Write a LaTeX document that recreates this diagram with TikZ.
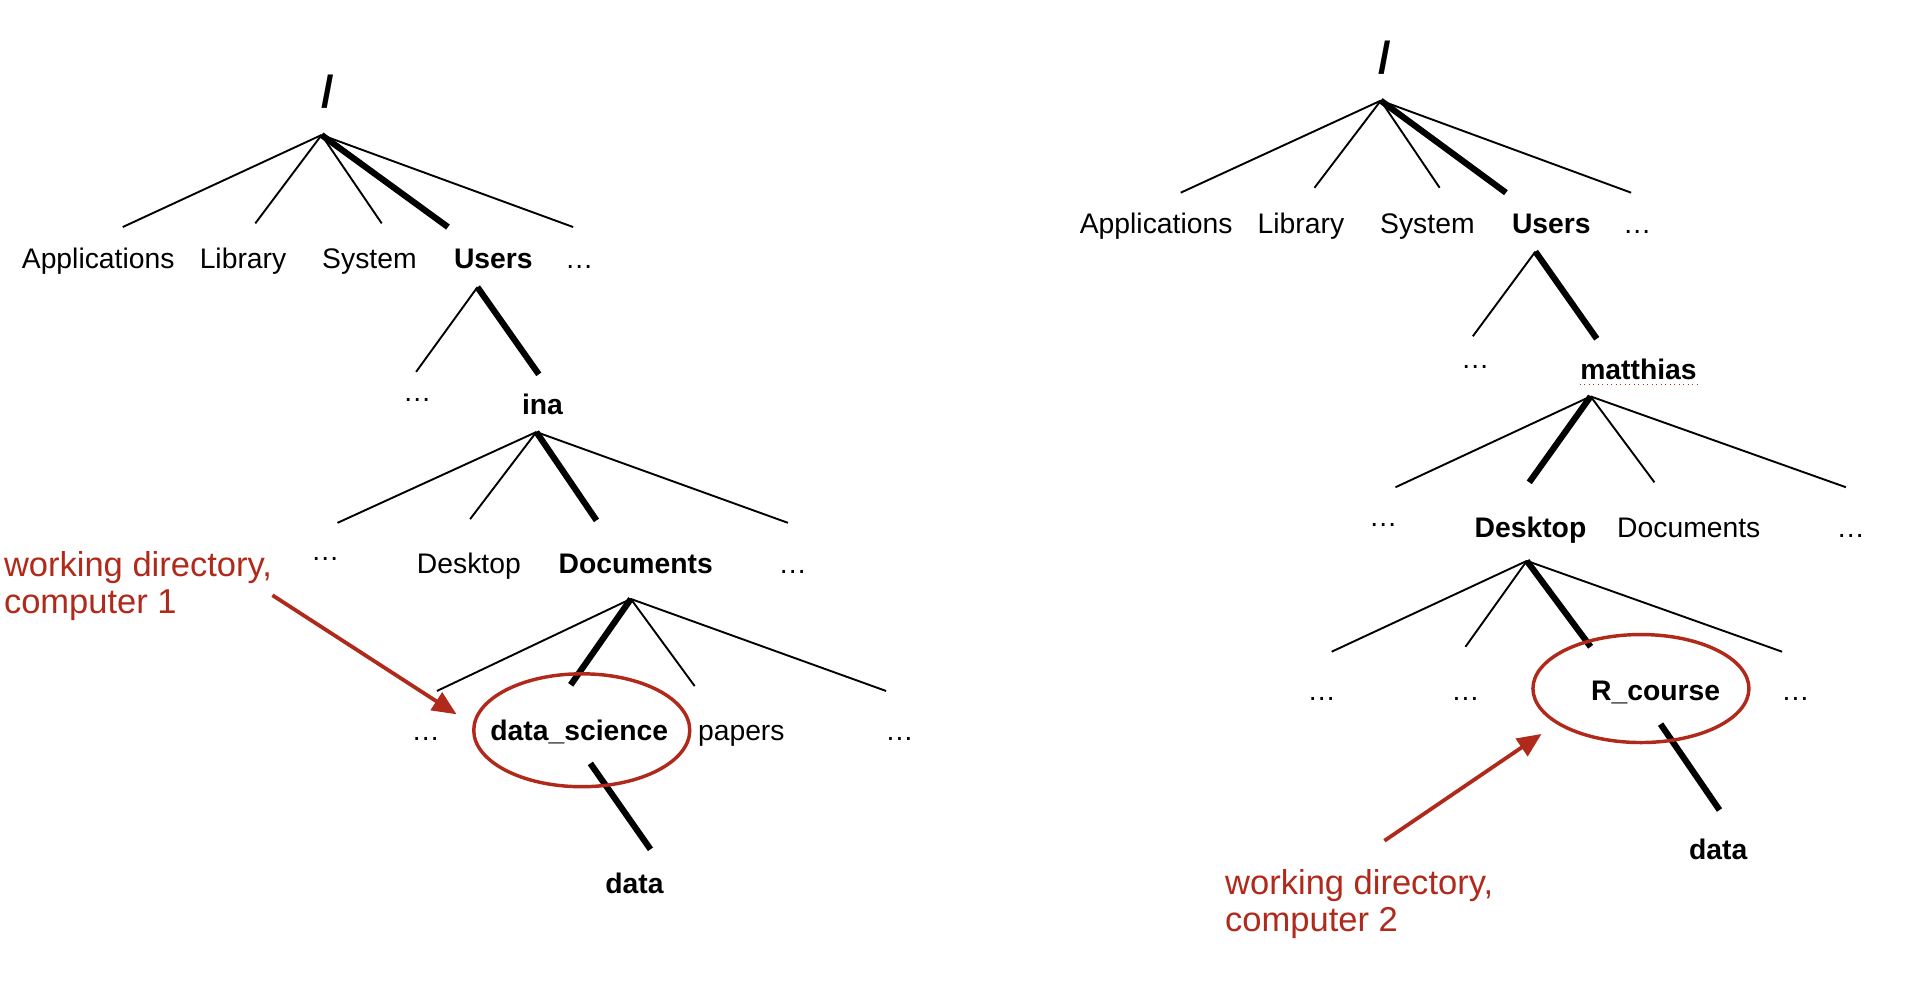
\documentclass[tikz,border=0pt]{standalone}
\usepackage{fontspec}
\setmainfont{Liberation Sans}
\usetikzlibrary{arrows.meta}
\definecolor{wdred}{RGB}{176,42,28}
\tikzset{
  lbl/.style = {anchor=base, inner sep=0pt, font=\fontsize{16.4}{18}\selectfont},
  blbl/.style = {lbl, font=\fontsize{16.4}{18}\selectfont\bfseries},
  rootlbl/.style = {inner sep=0pt, font=\fontsize{26}{28}\selectfont\bfseries},
  twig/.style = {line width=1.1pt},
  trail/.style = {line width=3.6pt},
  wdring/.style = {draw=wdred, line width=2pt},
  wdarrow/.style = {draw=wdred, line width=2.2pt, -{Triangle[length=14pt,width=12pt,fill=wdred]}},
  note/.style = {text=wdred, align=left, inner sep=0pt, anchor=north west, font=\fontsize{20}{21.3}\selectfont}
}
\begin{document}
\begin{tikzpicture}[x=0.025cm, y=-0.025cm]
\useasboundingbox (0,0) rectangle (1566,820);

% computer 1
\node[rootlbl] (root1) at (267,75) {/};
\node[lbl] (apps1) at (80,219) {Applications};
\node[lbl] (lib1) at (198,219) {Library};
\node[lbl] (sys1) at (301,219) {System};
\node[blbl] (users1) at (402,219) {Users};
\node[lbl] (more1) at (472,219) {\dots};
\node[lbl] (udots1) at (340,327) {\dots};
\node[blbl] (ina) at (442,338) {ina};
\node[lbl] (idots1) at (265,457) {\dots};
\node[lbl] (desk1) at (382,467) {Desktop};
\node[blbl] (docs1) at (518,467) {Documents};
\node[lbl] (idots2) at (646,467) {\dots};
\node[lbl] (ddots1) at (347,603) {\dots};
\node[blbl] (dsci) at (472,603) {data\_science};
\node[lbl] (papers) at (604,603) {papers};
\node[lbl] (ddots2) at (733,603) {\dots};
\node[blbl] (data1) at (517,728) {data};

\coordinate (j-root1) at (262,110);
\coordinate (e-apps1) at (100,185);
\coordinate (e-lib1) at (208,182);
\coordinate (e-sys1) at (311,182);
\coordinate (e-users1) at (365,185);
\coordinate (e-more1) at (467,185);
\coordinate (j-users1) at (389,234);
\coordinate (e-udots1) at (339,303);
\coordinate (e-ina) at (439,305);
\coordinate (j-ina) at (437,352);
\coordinate (e-idots1) at (275,426);
\coordinate (e-desk1) at (383,423);
\coordinate (e-docs1) at (486,424);
\coordinate (e-idots2) at (642,426);
\coordinate (j-docs1) at (514,488);
\coordinate (e-ddots1) at (356,563);
\coordinate (e-dsci) at (465,558);
\coordinate (e-papers) at (566,559);
\coordinate (e-ddots2) at (722,563);
\coordinate (j-dsci) at (481,622);
\coordinate (e-data1) at (530,692);

\draw[twig] (j-root1) -- (e-apps1);
\draw[twig] (j-root1) -- (e-lib1);
\draw[twig] (j-root1) -- (e-sys1);
\draw[trail] (j-root1) -- (e-users1);
\draw[twig] (j-root1) -- (e-more1);
\draw[twig] (j-users1) -- (e-udots1);
\draw[trail] (j-users1) -- (e-ina);
\draw[twig] (j-ina) -- (e-idots1);
\draw[twig] (j-ina) -- (e-desk1);
\draw[trail] (j-ina) -- (e-docs1);
\draw[twig] (j-ina) -- (e-idots2);
\draw[twig] (j-docs1) -- (e-ddots1);
\draw[trail] (j-docs1) -- (e-dsci);
\draw[twig] (j-docs1) -- (e-papers);
\draw[twig] (j-docs1) -- (e-ddots2);
\draw[trail] (j-dsci) -- (e-data1);

\draw[wdring] (474,595) ellipse [x radius=88, y radius=46];
\node[note] (wd1) at (3,449) {working directory,\\computer 1};
\coordinate (wd1-tail) at (222,485);
\coordinate (wd1-tip) at (372,582);
\draw[wdarrow] (wd1-tail) -- (wd1-tip);

% computer 2
\node[rootlbl] (root2) at (1128,47) {/};
\node[lbl] (apps2) at (942,190) {Applications};
\node[lbl] (lib2) at (1060,190) {Library};
\node[lbl] (sys2) at (1163,190) {System};
\node[blbl] (users2) at (1264,190) {Users};
\node[lbl] (more2) at (1334,190) {\dots};
\node[lbl] (udots2) at (1202,300) {\dots};
\node[blbl] (matthias) at (1335,309) {matthias};
\node[lbl] (mdots1) at (1127,429) {\dots};
\node[blbl] (desk2) at (1247,438) {Desktop};
\node[lbl] (docs2) at (1376,438) {Documents};
\node[lbl] (mdots2) at (1508,438) {\dots};
\node[lbl] (kdots1) at (1077,571) {\dots};
\node[lbl] (kdots2) at (1194,571) {\dots};
\node[blbl] (rcourse) at (1349,571) {R\_course};
\node[lbl] (kdots3) at (1463,571) {\dots};
\node[blbl] (data2) at (1400,700) {data};
\draw[wdred, line width=0.6pt, dotted] ([yshift=-3pt]matthias.base west) -- ([yshift=-3pt]matthias.base east);

\coordinate (j-root2) at (1125,82);
\coordinate (e-apps2) at (962,157);
\coordinate (e-lib2) at (1071,153);
\coordinate (e-sys2) at (1173,153);
\coordinate (e-users2) at (1227,157);
\coordinate (e-more2) at (1329,157);
\coordinate (j-users2) at (1251,205);
\coordinate (e-udots2) at (1200,274);
\coordinate (e-matthias) at (1301,276);
\coordinate (j-matthias) at (1296,323);
\coordinate (e-mdots1) at (1137,397);
\coordinate (e-desk2) at (1246,393);
\coordinate (e-docs2) at (1348,393);
\coordinate (e-mdots2) at (1504,397);
\coordinate (j-desk2) at (1244,457);
\coordinate (e-kdots1) at (1085,531);
\coordinate (e-kdots2) at (1194,527);
\coordinate (e-rcourse) at (1296,527);
\coordinate (e-kdots3) at (1452,531);
\coordinate (j-rcourse) at (1353,590);
\coordinate (e-data2) at (1401,660);

\draw[twig] (j-root2) -- (e-apps2);
\draw[twig] (j-root2) -- (e-lib2);
\draw[twig] (j-root2) -- (e-sys2);
\draw[trail] (j-root2) -- (e-users2);
\draw[twig] (j-root2) -- (e-more2);
\draw[twig] (j-users2) -- (e-udots2);
\draw[trail] (j-users2) -- (e-matthias);
\draw[twig] (j-matthias) -- (e-mdots1);
\draw[trail] (j-matthias) -- (e-desk2);
\draw[twig] (j-matthias) -- (e-docs2);
\draw[twig] (j-matthias) -- (e-mdots2);
\draw[twig] (j-desk2) -- (e-kdots1);
\draw[twig] (j-desk2) -- (e-kdots2);
\draw[trail] (j-desk2) -- (e-rcourse);
\draw[twig] (j-desk2) -- (e-kdots3);
\draw[trail] (j-rcourse) -- (e-data2);

\draw[wdring] (1337,561) ellipse [x radius=88, y radius=44];
\node[note] (wd2) at (998,708) {working directory,\\computer 2};
\coordinate (wd2-tail) at (1128,685);
\coordinate (wd2-tip) at (1256,598);
\draw[wdarrow] (wd2-tail) -- (wd2-tip);
\end{tikzpicture}
\end{document}
